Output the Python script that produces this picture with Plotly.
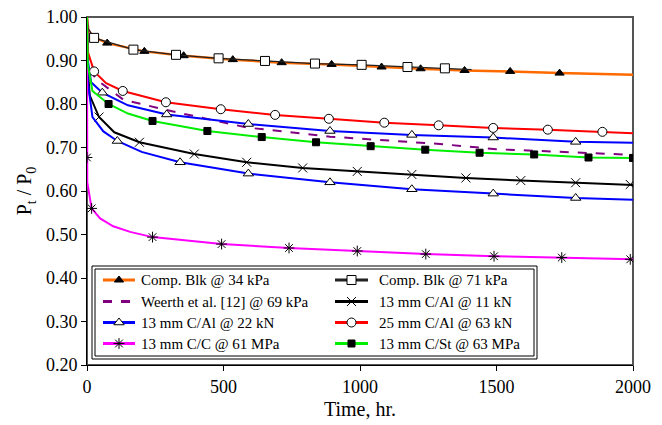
import plotly.graph_objects as go

# ---- data ----
blk34_x = [0, 5, 20, 74, 210, 354, 534, 713, 896, 1079, 1222, 1383, 1550, 1731, 2000]
blk34_y = [1.00, 0.970, 0.955, 0.940, 0.921, 0.911, 0.902, 0.895, 0.891, 0.885, 0.881, 0.877, 0.875, 0.871, 0.867]
blk34_mx = [74, 210, 354, 534, 713, 896, 1079, 1222, 1383, 1550, 1731]
blk34_my = [0.940, 0.921, 0.911, 0.902, 0.895, 0.891, 0.885, 0.881, 0.877, 0.875, 0.871]

blk71_x = [0, 3, 26, 170, 326, 482, 652, 835, 1006, 1174, 1311, 1409]
blk71_y = [1.00, 0.975, 0.952, 0.925, 0.913, 0.905, 0.899, 0.893, 0.890, 0.885, 0.882, 0.879]
blk71_mx = [26, 170, 326, 482, 652, 835, 1006, 1174, 1311]
blk71_my = [0.952, 0.925, 0.913, 0.905, 0.899, 0.893, 0.890, 0.885, 0.882]

weerth_x = [2, 10, 35, 133, 292, 585, 890, 1073, 1293, 1500, 1744, 2000]
weerth_y = [0.92, 0.88, 0.856, 0.810, 0.786, 0.746, 0.725, 0.717, 0.708, 0.696, 0.689, 0.683]

cal11_x = [0, 3, 10, 44, 100, 192, 393, 585, 790, 990, 1190, 1388, 1589, 1790, 2000]
cal11_y = [1.00, 0.88, 0.82, 0.770, 0.735, 0.712, 0.685, 0.666, 0.653, 0.645, 0.638, 0.630, 0.624, 0.619, 0.614]
cal11_mx = [44, 192, 393, 585, 790, 990, 1190, 1388, 1589, 1790, 1990]
cal11_my = [0.770, 0.712, 0.685, 0.666, 0.653, 0.645, 0.638, 0.630, 0.624, 0.619, 0.615]

cal22a_x = [0, 3, 15, 56, 150, 292, 591, 890, 1190, 1488, 1790, 2000]
cal22a_y = [1.00, 0.90, 0.85, 0.826, 0.797, 0.776, 0.754, 0.738, 0.729, 0.723, 0.713, 0.711]
cal22a_mx = [56, 292, 591, 890, 1190, 1488, 1790]
cal22a_my = [0.826, 0.776, 0.754, 0.738, 0.729, 0.723, 0.713]

cal22b_x = [0, 3, 20, 60, 111, 200, 341, 591, 890, 1190, 1488, 1790, 2000]
cal22b_y = [1.00, 0.85, 0.77, 0.737, 0.715, 0.690, 0.666, 0.640, 0.620, 0.604, 0.594, 0.584, 0.580]
cal22b_mx = [111, 341, 591, 890, 1190, 1488, 1790]
cal22b_my = [0.715, 0.666, 0.640, 0.620, 0.604, 0.594, 0.584]

cal63_x = [0, 3, 26, 70, 131, 289, 490, 689, 886, 1089, 1288, 1488, 1688, 1888, 2000]
cal63_y = [1.00, 0.92, 0.875, 0.848, 0.830, 0.804, 0.788, 0.775, 0.766, 0.757, 0.751, 0.745, 0.741, 0.736, 0.733]
cal63_mx = [26, 131, 289, 490, 689, 886, 1089, 1288, 1488, 1688, 1888]
cal63_my = [0.875, 0.830, 0.804, 0.788, 0.775, 0.766, 0.757, 0.751, 0.745, 0.741, 0.736]

cc_x = [0, 1, 17, 48, 96, 158, 240, 493, 740, 990, 1241, 1491, 1739, 2000]
cc_y = [1.00, 0.62, 0.560, 0.537, 0.519, 0.506, 0.494, 0.478, 0.469, 0.462, 0.455, 0.450, 0.447, 0.443]
cc_mx = [0, 17, 240, 493, 740, 990, 1241, 1491, 1739, 1990]
cc_my = [0.677, 0.560, 0.494, 0.478, 0.469, 0.462, 0.455, 0.450, 0.447, 0.443]

cst_x = [0, 3, 20, 79, 150, 240, 441, 640, 839, 1039, 1239, 1438, 1638, 1837, 2000]
cst_y = [1.00, 0.89, 0.83, 0.800, 0.778, 0.761, 0.738, 0.724, 0.712, 0.703, 0.695, 0.688, 0.684, 0.677, 0.676]
cst_mx = [79, 240, 441, 640, 839, 1039, 1239, 1438, 1638, 1837, 2000]
cst_my = [0.800, 0.761, 0.738, 0.724, 0.712, 0.703, 0.695, 0.688, 0.684, 0.677, 0.676]

series_names = ["Comp. Blk @ 34 kPa", "Comp. Blk @ 71 kPa", "Weerth et al. [12] @ 69 kPa", "13 mm C/Al @ 11 kN",
                "13 mm C/Al @ 22 kN", "25 mm C/Al @ 63 kN", "13 mm C/C @ 61 MPa", "13 mm C/St @ 63 MPa"]

x_ticks = [0, 500, 1000, 1500, 2000]
y_ticks = [0.20, 0.30, 0.40, 0.50, 0.60, 0.70, 0.80, 0.90, 1.00]

FONT = "Liberation Serif, Times New Roman, serif"

# plot-area geometry in pixels (for the hand-drawn legend box)
W, H = 662, 425
ML, MR, MT, MB = 87, 29, 17, 60
PW, PH = W - ML - MR, H - MT - MB


def px(xp):
    return (xp - ML) / PW


def py(yp):
    return (H - MB - yp) / PH


fig = go.Figure()

styles = {}


def add_series(name, lx, ly, mx, my, color, sym, mcolor, msize, dash="solid", width=2, legend=True):
    fig.add_trace(go.Scatter(x=lx, y=ly, mode="lines", line=dict(color=color, width=width, dash=dash),
                             showlegend=False, hoverinfo="skip"))
    if mx:
        fig.add_trace(go.Scatter(x=mx, y=my, mode="markers", showlegend=False,
                                 marker=dict(symbol=sym, color=mcolor, size=msize,
                                             line=dict(color="black", width=1))))
    if legend:
        styles[name] = dict(color=color, sym=sym if mx else None, mcolor=mcolor, msize=msize, dash=dash)


add_series(series_names[0], blk34_x, blk34_y, blk34_mx, blk34_my, "#FF6A00", "triangle-up", "black", 8, width=2.5)
add_series(series_names[1], blk71_x, blk71_y, blk71_mx, blk71_my, "#222222", "square", "white", 9, width=1.2)
add_series(series_names[2], weerth_x, weerth_y, [], [], "#800080", None, None, 0, dash="dash")
add_series(series_names[3], cal11_x, cal11_y, cal11_mx, cal11_my, "black", "x-thin", "black", 9)
add_series(series_names[4], cal22a_x, cal22a_y, cal22a_mx, cal22a_my, "#0000FF", "triangle-up", "white", 9)
add_series(series_names[4], cal22b_x, cal22b_y, cal22b_mx, cal22b_my, "#0000FF", "triangle-up", "white", 9, legend=False)
add_series(series_names[5], cal63_x, cal63_y, cal63_mx, cal63_my, "#FF0000", "circle", "white", 9)
add_series(series_names[6], cc_x, cc_y, cc_mx, cc_my, "#FF00FF", "asterisk", "black", 9)
add_series(series_names[7], cst_x, cst_y, cst_mx, cst_my, "#00EE00", "square", "black", 7)

# ---- hand-drawn legend (two columns) on an overlay axis in paper units ----
row_y = [280, 301.5, 322.5, 343.5]
col_line = [(103, 135), (335, 368)]
col_text = [139, 377]
annotations = []
shapes = [
    dict(type="rect", xref="paper", yref="paper", x0=0, y0=0, x1=1, y1=1,
         line=dict(color="#555555", width=2), layer="below"),
    dict(type="rect", xref="paper", yref="paper", x0=px(92), y0=py(359), x1=px(537), y1=py(266),
         line=dict(color="black", width=1), fillcolor="white", layer="below"),
    dict(type="rect", xref="paper", yref="paper", x0=px(95), y0=py(356), x1=px(534), y1=py(269),
         line=dict(color="black", width=1), layer="below"),
]
for i, name in enumerate(series_names):
    r, c = divmod(i, 2)
    st = styles[name]
    x0, x1 = col_line[c]
    yy = py(row_y[r])
    fig.add_trace(go.Scatter(x=[px(x0), px(x1)], y=[yy, yy], mode="lines", xaxis="x2", yaxis="y2",
                             line=dict(color=st["color"], width=3, dash="dash" if st["dash"] == "dash" else "solid"),
                             showlegend=False, hoverinfo="skip"))
    if st["sym"]:
        fig.add_trace(go.Scatter(x=[px((x0 + x1) / 2)], y=[yy], mode="markers", xaxis="x2", yaxis="y2",
                                 marker=dict(symbol=st["sym"], color=st["mcolor"], size=st["msize"],
                                             line=dict(color="black", width=1)),
                                 showlegend=False, hoverinfo="skip"))
    annotations.append(dict(x=px(col_text[c]), y=yy, xref="paper", yref="paper", text=name,
                            showarrow=False, xanchor="left", yanchor="middle",
                            font=dict(family=FONT, size=15, color="black")))

fig.update_layout(
    width=W, height=H,
    margin=dict(l=ML, r=MR, t=MT, b=MB, autoexpand=False),
    paper_bgcolor="white", plot_bgcolor="white",
    font=dict(family=FONT, color="black", size=18),
    showlegend=False,
    shapes=shapes,
    annotations=annotations,
    xaxis2=dict(overlaying="x", range=[0, 1], visible=False, domain=[0, 1]),
    yaxis2=dict(overlaying="y", range=[0, 1], visible=False, domain=[0, 1]),
    xaxis=dict(range=[0, 2000], tickvals=x_ticks, ticks="outside", ticklen=5, tickcolor="black",
               showline=True, linecolor="black", linewidth=1, showgrid=False, zeroline=False,
               automargin=False,
               title=dict(text="Time, hr.", font=dict(family=FONT, size=20), standoff=6),
               tickfont=dict(family=FONT, size=18)),
    yaxis=dict(range=[0.2, 1.0], tickvals=y_ticks, tickformat=".2f", ticks="outside", ticklen=5,
               tickcolor="black", showline=True, linecolor="black", linewidth=1, showgrid=False,
               zeroline=False, automargin=False,
               title=dict(text="P<sub>t</sub> / P<sub>0</sub>", font=dict(family=FONT, size=20), standoff=8),
               tickfont=dict(family=FONT, size=18)),
)

fig.write_html("out.html", config={"displayModeBar": False},
               post_script="document.body.style.margin='0';")
